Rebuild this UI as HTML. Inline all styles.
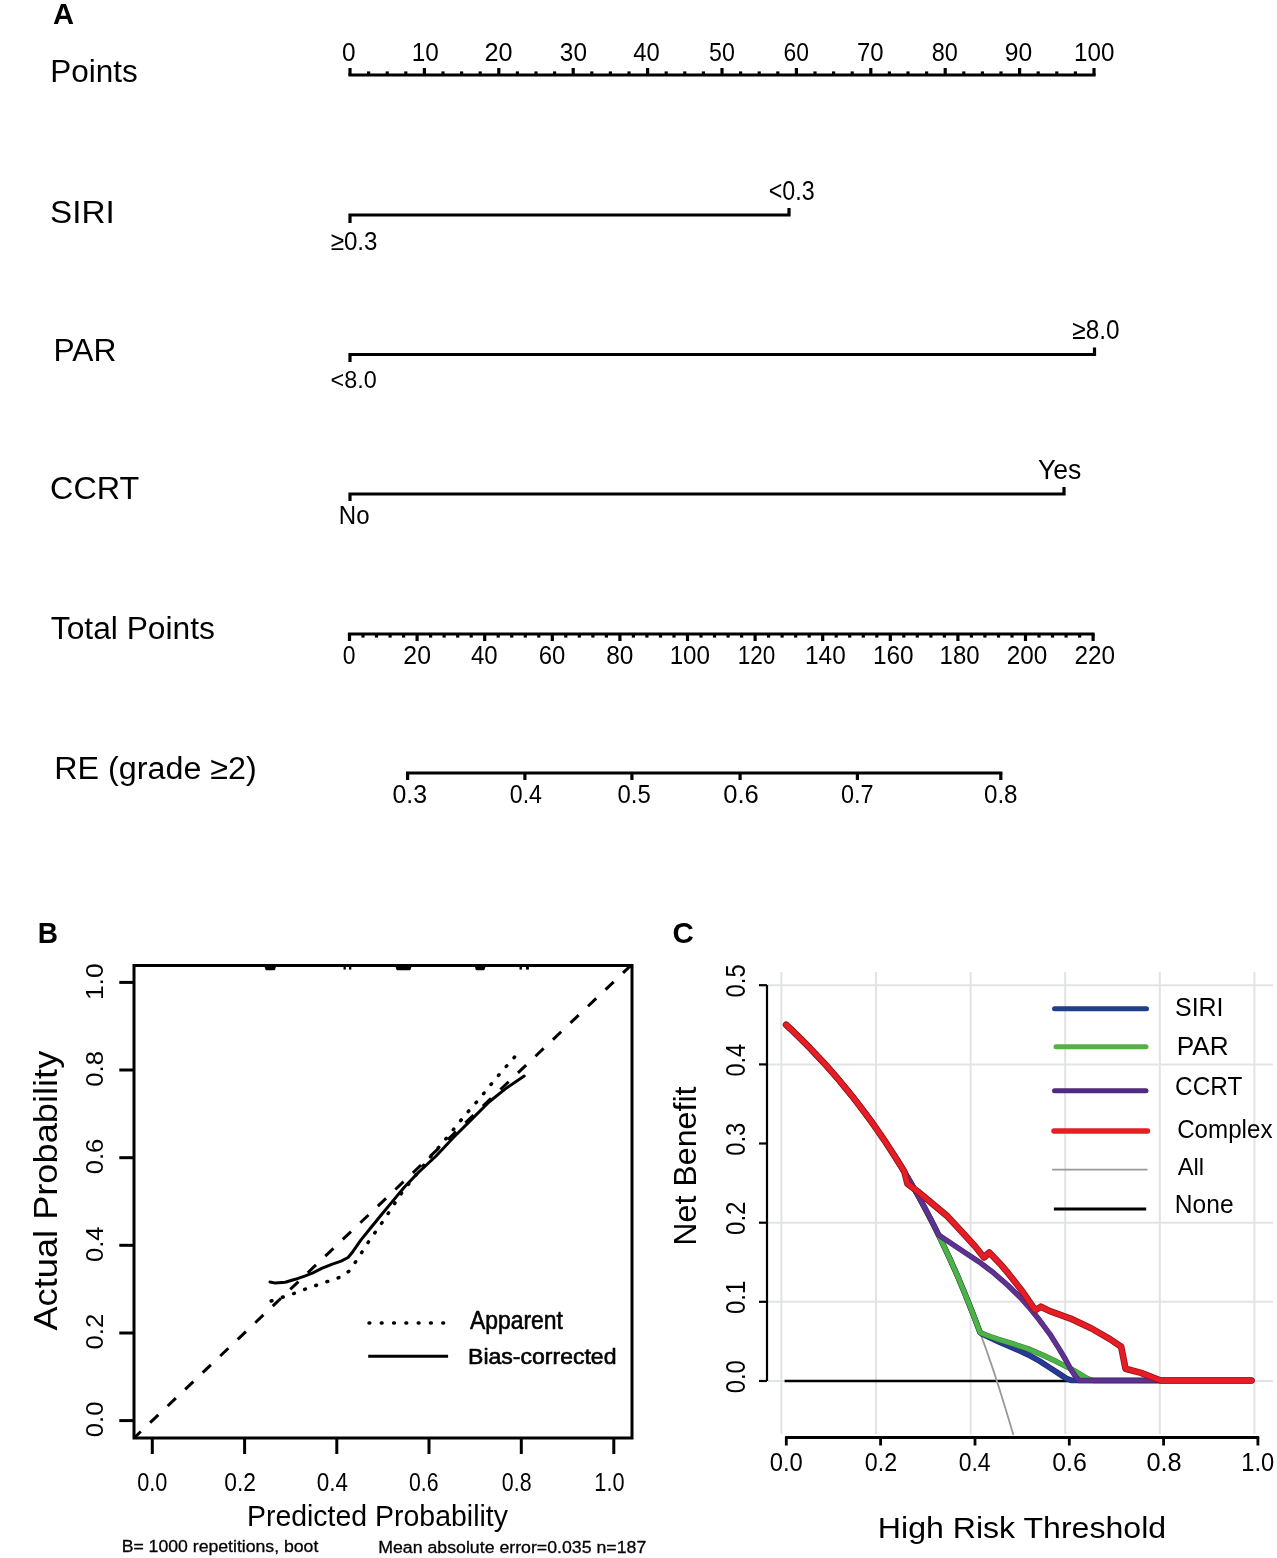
<!DOCTYPE html>
<html><head><meta charset="utf-8"><style>
html,body{margin:0;padding:0;background:#fff;}
svg{display:block;}
text{font-family:"Liberation Sans",sans-serif;}
</style></head><body>
<svg width="1277" height="1558" viewBox="0 0 1277 1558">
<rect width="1277" height="1558" fill="#fff"/>
<g stroke="#000" stroke-width="3.2" fill="none" stroke-linecap="butt">
<line x1="348.4" y1="75" x2="1095.6" y2="75"/>
<line x1="350.0" y1="68" x2="350.0" y2="75"/>
<line x1="368.6" y1="71.4" x2="368.6" y2="75"/>
<line x1="387.2" y1="71.4" x2="387.2" y2="75"/>
<line x1="405.8" y1="71.4" x2="405.8" y2="75"/>
<line x1="424.4" y1="68" x2="424.4" y2="75"/>
<line x1="443.0" y1="71.4" x2="443.0" y2="75"/>
<line x1="461.6" y1="71.4" x2="461.6" y2="75"/>
<line x1="480.2" y1="71.4" x2="480.2" y2="75"/>
<line x1="498.8" y1="68" x2="498.8" y2="75"/>
<line x1="517.4" y1="71.4" x2="517.4" y2="75"/>
<line x1="536.0" y1="71.4" x2="536.0" y2="75"/>
<line x1="554.6" y1="71.4" x2="554.6" y2="75"/>
<line x1="573.2" y1="68" x2="573.2" y2="75"/>
<line x1="591.8" y1="71.4" x2="591.8" y2="75"/>
<line x1="610.4" y1="71.4" x2="610.4" y2="75"/>
<line x1="629.0" y1="71.4" x2="629.0" y2="75"/>
<line x1="647.6" y1="68" x2="647.6" y2="75"/>
<line x1="666.2" y1="71.4" x2="666.2" y2="75"/>
<line x1="684.8" y1="71.4" x2="684.8" y2="75"/>
<line x1="703.4" y1="71.4" x2="703.4" y2="75"/>
<line x1="722.0" y1="68" x2="722.0" y2="75"/>
<line x1="740.6" y1="71.4" x2="740.6" y2="75"/>
<line x1="759.2" y1="71.4" x2="759.2" y2="75"/>
<line x1="777.8" y1="71.4" x2="777.8" y2="75"/>
<line x1="796.4" y1="68" x2="796.4" y2="75"/>
<line x1="815.0" y1="71.4" x2="815.0" y2="75"/>
<line x1="833.6" y1="71.4" x2="833.6" y2="75"/>
<line x1="852.2" y1="71.4" x2="852.2" y2="75"/>
<line x1="870.8" y1="68" x2="870.8" y2="75"/>
<line x1="889.4" y1="71.4" x2="889.4" y2="75"/>
<line x1="908.0" y1="71.4" x2="908.0" y2="75"/>
<line x1="926.6" y1="71.4" x2="926.6" y2="75"/>
<line x1="945.2" y1="68" x2="945.2" y2="75"/>
<line x1="963.8" y1="71.4" x2="963.8" y2="75"/>
<line x1="982.4" y1="71.4" x2="982.4" y2="75"/>
<line x1="1001.0" y1="71.4" x2="1001.0" y2="75"/>
<line x1="1019.6" y1="68" x2="1019.6" y2="75"/>
<line x1="1038.2" y1="71.4" x2="1038.2" y2="75"/>
<line x1="1056.8" y1="71.4" x2="1056.8" y2="75"/>
<line x1="1075.4" y1="71.4" x2="1075.4" y2="75"/>
<line x1="1094.0" y1="68" x2="1094.0" y2="75"/>
<polyline points="350,223 350,215 789,215 789,208"/>
<polyline points="350,362 350,354.5 1094.5,354.5 1094.5,347.4"/>
<polyline points="350,501 350,494 1064,494 1064,487"/>
<line x1="347.9" y1="634" x2="1094.6" y2="634"/>
<line x1="349.5" y1="634" x2="349.5" y2="641"/>
<line x1="363.0" y1="634" x2="363.0" y2="637.6"/>
<line x1="376.5" y1="634" x2="376.5" y2="637.6"/>
<line x1="390.1" y1="634" x2="390.1" y2="637.6"/>
<line x1="403.6" y1="634" x2="403.6" y2="637.6"/>
<line x1="417.1" y1="634" x2="417.1" y2="641"/>
<line x1="430.6" y1="634" x2="430.6" y2="637.6"/>
<line x1="444.1" y1="634" x2="444.1" y2="637.6"/>
<line x1="457.7" y1="634" x2="457.7" y2="637.6"/>
<line x1="471.2" y1="634" x2="471.2" y2="637.6"/>
<line x1="484.7" y1="634" x2="484.7" y2="641"/>
<line x1="498.2" y1="634" x2="498.2" y2="637.6"/>
<line x1="511.7" y1="634" x2="511.7" y2="637.6"/>
<line x1="525.3" y1="634" x2="525.3" y2="637.6"/>
<line x1="538.8" y1="634" x2="538.8" y2="637.6"/>
<line x1="552.3" y1="634" x2="552.3" y2="641"/>
<line x1="565.8" y1="634" x2="565.8" y2="637.6"/>
<line x1="579.3" y1="634" x2="579.3" y2="637.6"/>
<line x1="592.9" y1="634" x2="592.9" y2="637.6"/>
<line x1="606.4" y1="634" x2="606.4" y2="637.6"/>
<line x1="619.9" y1="634" x2="619.9" y2="641"/>
<line x1="633.4" y1="634" x2="633.4" y2="637.6"/>
<line x1="646.9" y1="634" x2="646.9" y2="637.6"/>
<line x1="660.5" y1="634" x2="660.5" y2="637.6"/>
<line x1="674.0" y1="634" x2="674.0" y2="637.6"/>
<line x1="687.5" y1="634" x2="687.5" y2="641"/>
<line x1="701.0" y1="634" x2="701.0" y2="637.6"/>
<line x1="714.5" y1="634" x2="714.5" y2="637.6"/>
<line x1="728.1" y1="634" x2="728.1" y2="637.6"/>
<line x1="741.6" y1="634" x2="741.6" y2="637.6"/>
<line x1="755.1" y1="634" x2="755.1" y2="641"/>
<line x1="768.6" y1="634" x2="768.6" y2="637.6"/>
<line x1="782.1" y1="634" x2="782.1" y2="637.6"/>
<line x1="795.7" y1="634" x2="795.7" y2="637.6"/>
<line x1="809.2" y1="634" x2="809.2" y2="637.6"/>
<line x1="822.7" y1="634" x2="822.7" y2="641"/>
<line x1="836.2" y1="634" x2="836.2" y2="637.6"/>
<line x1="849.7" y1="634" x2="849.7" y2="637.6"/>
<line x1="863.3" y1="634" x2="863.3" y2="637.6"/>
<line x1="876.8" y1="634" x2="876.8" y2="637.6"/>
<line x1="890.3" y1="634" x2="890.3" y2="641"/>
<line x1="903.8" y1="634" x2="903.8" y2="637.6"/>
<line x1="917.3" y1="634" x2="917.3" y2="637.6"/>
<line x1="930.9" y1="634" x2="930.9" y2="637.6"/>
<line x1="944.4" y1="634" x2="944.4" y2="637.6"/>
<line x1="957.9" y1="634" x2="957.9" y2="641"/>
<line x1="971.4" y1="634" x2="971.4" y2="637.6"/>
<line x1="984.9" y1="634" x2="984.9" y2="637.6"/>
<line x1="998.5" y1="634" x2="998.5" y2="637.6"/>
<line x1="1012.0" y1="634" x2="1012.0" y2="637.6"/>
<line x1="1025.5" y1="634" x2="1025.5" y2="641"/>
<line x1="1039.0" y1="634" x2="1039.0" y2="637.6"/>
<line x1="1052.5" y1="634" x2="1052.5" y2="637.6"/>
<line x1="1066.1" y1="634" x2="1066.1" y2="637.6"/>
<line x1="1079.6" y1="634" x2="1079.6" y2="637.6"/>
<line x1="1093.1" y1="634" x2="1093.1" y2="641"/>
<line x1="406.0" y1="773" x2="1002.4" y2="773"/>
<line x1="407.6" y1="773" x2="407.6" y2="780"/>
<line x1="524.9" y1="773" x2="524.9" y2="780"/>
<line x1="631.9" y1="773" x2="631.9" y2="780"/>
<line x1="740.1" y1="773" x2="740.1" y2="780"/>
<line x1="857.4" y1="773" x2="857.4" y2="780"/>
<line x1="1000.8" y1="773" x2="1000.8" y2="780"/>
</g>
<g stroke="#000" fill="none">
<rect x="134" y="965.5" width="498" height="472.5" stroke-width="3"/>
<line x1="152.3" y1="1438" x2="152.3" y2="1454" stroke-width="3"/>
<line x1="244.6" y1="1438" x2="244.6" y2="1454" stroke-width="3"/>
<line x1="336.8" y1="1438" x2="336.8" y2="1454" stroke-width="3"/>
<line x1="429.0" y1="1438" x2="429.0" y2="1454" stroke-width="3"/>
<line x1="521.3" y1="1438" x2="521.3" y2="1454" stroke-width="3"/>
<line x1="613.8" y1="1438" x2="613.8" y2="1454" stroke-width="3"/>
<line x1="119.3" y1="1420.6" x2="134" y2="1420.6" stroke-width="3"/>
<line x1="119.3" y1="1333.0" x2="134" y2="1333.0" stroke-width="3"/>
<line x1="119.3" y1="1245.3" x2="134" y2="1245.3" stroke-width="3"/>
<line x1="119.3" y1="1157.7" x2="134" y2="1157.7" stroke-width="3"/>
<line x1="119.3" y1="1070.0" x2="134" y2="1070.0" stroke-width="3"/>
<line x1="119.3" y1="982.4" x2="134" y2="982.4" stroke-width="3"/>
<line x1="134" y1="1438" x2="632" y2="964.4" stroke-width="3" stroke-dasharray="11.3 12.87" stroke-dashoffset="1.9"/>
<polyline points="270.0,1282.0 275.3,1283.1 285.3,1282.2 295.2,1279.3 304.6,1276.1 312.9,1272.8 322.3,1268.1 331.7,1264.3 341.1,1261.1 348.1,1257.5 352.8,1251.7 361.0,1239.9 370.4,1228.2 381.0,1215.2 392.7,1201.1 404.5,1187.0 418.5,1172.4 436.1,1156.0 453.7,1137.2 471.4,1119.6 489.0,1102.0 506.6,1087.9 524.2,1076.1" stroke-width="3" stroke-linejoin="round" stroke-linecap="round"/>
<polyline points="271.2,1301.0 294.1,1293.4 305.2,1289.2 317.0,1285.1 328.1,1281.3 339.9,1277.3 349.3,1271.0 356.3,1260.8 362.8,1250.8 369.2,1240.8 376.3,1230.7 383.3,1220.9 389.8,1211.1 396.3,1200.9 403.3,1190.6 420.0,1170.0 432.0,1155.0 442.0,1143.7 456.7,1125.5 464.3,1116.1 472.0,1107.2 480.2,1097.8 487.8,1088.4 495.4,1079.0 503.1,1070.0 511.3,1060.8 519.5,1051.4" stroke-width="3.5" stroke-linecap="round" stroke-dasharray="0.8 11"/>
<line x1="369" y1="1323" x2="446" y2="1323" stroke-width="3.5" stroke-linecap="round" stroke-dasharray="0.8 11.5"/>
<line x1="368.2" y1="1356.3" x2="448.1" y2="1356.3" stroke-width="3"/>
</g>
<path d="M264,965 L276.5,965 L275.0,969.8 Q274.5,970.3 273.5,970.3 L267,970.3 Q266,970.3 265.5,969.8 Z" fill="#000"/>
<path d="M395,965 L412,965 L410.5,969.8 Q410,970.3 409,970.3 L398,970.3 Q397,970.3 396.5,969.8 Z" fill="#000"/>
<path d="M474.3,965 L486,965 L484.5,969.8 Q484,970.3 483,970.3 L477.3,970.3 Q476.3,970.3 475.8,969.8 Z" fill="#000"/>
<rect x="343.5" y="965" width="2.3000000000000114" height="4.6" fill="#000"/>
<rect x="349" y="965" width="2.3000000000000114" height="4.6" fill="#000"/>
<rect x="519.5" y="965" width="2.3999999999999773" height="4.6" fill="#000"/>
<rect x="526" y="965" width="2.8999999999999773" height="4.6" fill="#000"/>
<g stroke="#e2e3e5" stroke-width="2">
<line x1="781.4" y1="972" x2="781.4" y2="1434"/>
<line x1="876.0" y1="972" x2="876.0" y2="1434"/>
<line x1="970.6" y1="972" x2="970.6" y2="1434"/>
<line x1="1065.2" y1="972" x2="1065.2" y2="1434"/>
<line x1="1159.8" y1="972" x2="1159.8" y2="1434"/>
<line x1="1254.4" y1="972" x2="1254.4" y2="1434"/>
<line x1="768" y1="1381.0" x2="1273" y2="1381.0"/>
<line x1="768" y1="1301.8" x2="1273" y2="1301.8"/>
<line x1="768" y1="1222.7" x2="1273" y2="1222.7"/>
<line x1="768" y1="1064.4" x2="1273" y2="1064.4"/>
<line x1="768" y1="985.2" x2="1273" y2="985.2"/>
</g>
<g stroke="#000" fill="none">
<line x1="767" y1="985" x2="767" y2="1381" stroke-width="2.2"/>
<line x1="759" y1="1381.0" x2="767" y2="1381.0" stroke-width="2.2"/>
<line x1="759" y1="1301.8" x2="767" y2="1301.8" stroke-width="2.2"/>
<line x1="759" y1="1222.7" x2="767" y2="1222.7" stroke-width="2.2"/>
<line x1="759" y1="1143.5" x2="767" y2="1143.5" stroke-width="2.2"/>
<line x1="759" y1="1064.4" x2="767" y2="1064.4" stroke-width="2.2"/>
<line x1="759" y1="985.2" x2="767" y2="985.2" stroke-width="2.2"/>
<line x1="785.0999999999999" y1="1437.5" x2="1259.1499999999999" y2="1437.5" stroke-width="2.8"/>
<line x1="786.3" y1="1437" x2="786.3" y2="1445.5" stroke-width="2.8"/>
<line x1="880.6" y1="1437" x2="880.6" y2="1445.5" stroke-width="2.8"/>
<line x1="975.0" y1="1437" x2="975.0" y2="1445.5" stroke-width="2.8"/>
<line x1="1069.3" y1="1437" x2="1069.3" y2="1445.5" stroke-width="2.8"/>
<line x1="1163.6" y1="1437" x2="1163.6" y2="1445.5" stroke-width="2.8"/>
<line x1="1257.9" y1="1437" x2="1257.9" y2="1445.5" stroke-width="2.8"/>
</g>
<line x1="784.6" y1="1381" x2="1250" y2="1381" stroke="#000" stroke-width="2.6"/>
<polyline points="786.1,1024.8 788.5,1027.0 790.9,1029.2 793.2,1031.5 795.6,1033.8 798.0,1036.1 800.3,1038.4 802.7,1040.7 805.0,1043.1 807.4,1045.5 809.8,1047.9 812.1,1050.4 814.5,1052.9 816.9,1055.4 819.2,1057.9 821.6,1060.5 824.0,1063.1 826.3,1065.7 828.7,1068.3 831.1,1071.0 833.4,1073.7 835.8,1076.4 838.2,1079.2 840.5,1082.0 842.9,1084.8 845.3,1087.7 847.6,1090.6 850.0,1093.5 852.4,1096.5 854.7,1099.5 857.1,1102.5 859.4,1105.6 861.8,1108.7 864.2,1111.9 866.5,1115.0 868.9,1118.3 871.3,1121.5 873.6,1124.8 876.0,1128.2 878.4,1131.6 880.7,1135.0 883.1,1138.5 885.5,1142.0 887.8,1145.6 890.2,1149.2 892.6,1152.8 894.9,1156.5 897.3,1160.3 899.7,1164.1 902.0,1168.0 904.4,1171.9 906.7,1175.8 909.1,1179.8 911.5,1183.9 913.8,1188.0 916.2,1192.2 918.6,1196.5 920.9,1200.8 923.3,1205.2 925.7,1209.6 928.0,1214.1 930.4,1218.6 932.8,1223.3 935.1,1228.0 937.5,1232.7 939.9,1237.6 942.2,1242.5 944.6,1247.5 947.0,1252.5 949.3,1257.7 951.7,1262.9 954.0,1268.2 956.4,1273.6 958.8,1279.0 961.1,1284.6 963.5,1290.3 965.9,1296.0 968.2,1301.8 970.6,1307.8 973.0,1313.8 975.3,1320.0 977.7,1326.2 980.1,1332.5 982.4,1339.0 984.8,1345.6 987.2,1352.3 989.5,1359.1 991.9,1366.0 994.3,1373.1 996.6,1380.3 999.0,1387.6 1001.3,1395.1 1003.7,1402.7 1006.1,1410.4 1008.4,1418.3 1010.8,1426.3 1013.2,1434.5 1013.3,1435.0" stroke="#999" stroke-width="1.8" fill="none"/>
<polyline points="786.1,1024.8 790.9,1029.2 795.6,1033.8 800.3,1038.4 805.0,1043.1 809.8,1047.9 814.5,1052.9 819.2,1057.9 824.0,1063.1 828.7,1068.3 833.4,1073.7 838.2,1079.2 842.9,1084.8 847.6,1090.6 852.4,1096.5 857.1,1102.5 861.8,1108.7 866.5,1115.0 871.3,1121.5 876.0,1128.2 880.7,1135.0 885.5,1142.0 890.2,1149.2 894.9,1156.5 899.6,1164.1 904.4,1171.9 904.4,1171.9 911.9,1184.7 919.5,1198.2 927.1,1212.3 934.7,1227.0 942.2,1242.5 949.8,1258.7 957.4,1275.7 964.9,1293.7 972.5,1312.6 980.1,1332.5 981.5,1333.6 990.0,1337.6 1000.0,1342.4 1014.0,1348.3 1028.2,1354.8 1039.5,1361.0 1049.3,1367.3 1058.0,1373.0 1066.3,1378.5 1072.0,1380.5 1251.5,1380.5" stroke="#1c2a66" stroke-width="5.7" fill="none" stroke-linejoin="round" stroke-linecap="round"/>
<polyline points="786.1,1024.8 790.9,1029.2 795.6,1033.8 800.3,1038.4 805.0,1043.1 809.8,1047.9 814.5,1052.9 819.2,1057.9 824.0,1063.1 828.7,1068.3 833.4,1073.7 838.2,1079.2 842.9,1084.8 847.6,1090.6 852.4,1096.5 857.1,1102.5 861.8,1108.7 866.5,1115.0 871.3,1121.5 876.0,1128.2 880.7,1135.0 885.5,1142.0 890.2,1149.2 894.9,1156.5 899.6,1164.1 904.4,1171.9 904.4,1171.9 911.9,1184.7 919.5,1198.2 927.1,1212.3 934.7,1227.0 942.2,1242.5 949.8,1258.7 957.4,1275.7 964.9,1293.7 972.5,1312.6 980.1,1332.5 981.5,1333.6 990.0,1337.6 1000.0,1342.4 1014.0,1348.3 1028.2,1354.8 1039.5,1361.0 1049.3,1367.3 1058.0,1373.0 1066.3,1378.5 1072.0,1380.5 1251.5,1380.5" stroke="#263a96" stroke-width="4.4" fill="none" stroke-linejoin="round" stroke-linecap="round"/>
<polyline points="786.1,1024.8 790.9,1029.2 795.6,1033.8 800.3,1038.4 805.0,1043.1 809.8,1047.9 814.5,1052.9 819.2,1057.9 824.0,1063.1 828.7,1068.3 833.4,1073.7 838.2,1079.2 842.9,1084.8 847.6,1090.6 852.4,1096.5 857.1,1102.5 861.8,1108.7 866.5,1115.0 871.3,1121.5 876.0,1128.2 880.7,1135.0 885.5,1142.0 890.2,1149.2 894.9,1156.5 899.6,1164.1 904.4,1171.9 904.4,1171.9 911.9,1184.7 919.5,1198.2 927.1,1212.3 934.7,1227.0 942.2,1242.5 949.8,1258.7 957.4,1275.7 964.9,1293.7 972.5,1312.6 980.1,1332.5 981.5,1333.2 990.0,1336.5 1000.0,1339.8 1014.0,1344.2 1028.2,1348.9 1042.0,1354.8 1056.4,1361.6 1073.3,1370.1 1087.4,1378.5 1093.0,1380.5 1251.5,1380.5" stroke="#3f7a30" stroke-width="5.5" fill="none" stroke-linejoin="round" stroke-linecap="round"/>
<polyline points="786.1,1024.8 790.9,1029.2 795.6,1033.8 800.3,1038.4 805.0,1043.1 809.8,1047.9 814.5,1052.9 819.2,1057.9 824.0,1063.1 828.7,1068.3 833.4,1073.7 838.2,1079.2 842.9,1084.8 847.6,1090.6 852.4,1096.5 857.1,1102.5 861.8,1108.7 866.5,1115.0 871.3,1121.5 876.0,1128.2 880.7,1135.0 885.5,1142.0 890.2,1149.2 894.9,1156.5 899.6,1164.1 904.4,1171.9 904.4,1171.9 911.9,1184.7 919.5,1198.2 927.1,1212.3 934.7,1227.0 942.2,1242.5 949.8,1258.7 957.4,1275.7 964.9,1293.7 972.5,1312.6 980.1,1332.5 981.5,1333.2 990.0,1336.5 1000.0,1339.8 1014.0,1344.2 1028.2,1348.9 1042.0,1354.8 1056.4,1361.6 1073.3,1370.1 1087.4,1378.5 1093.0,1380.5 1251.5,1380.5" stroke="#4bb446" stroke-width="4.4" fill="none" stroke-linejoin="round" stroke-linecap="round"/>
<polyline points="786.1,1024.8 790.9,1029.2 795.6,1033.8 800.3,1038.4 805.0,1043.1 809.8,1047.9 814.5,1052.9 819.2,1057.9 824.0,1063.1 828.7,1068.3 833.4,1073.7 838.2,1079.2 842.9,1084.8 847.6,1090.6 852.4,1096.5 857.1,1102.5 861.8,1108.7 866.5,1115.0 871.3,1121.5 876.0,1128.2 880.7,1135.0 885.5,1142.0 890.2,1149.2 894.9,1156.5 899.6,1164.1 904.4,1171.9 904.4,1171.9 910.1,1181.5 915.8,1191.5 921.5,1201.9 927.2,1212.6 933.0,1223.7 938.7,1235.1 957.7,1247.7 979.2,1261.9 994.0,1273.2 1007.8,1285.3 1021.1,1298.2 1031.0,1309.5 1040.0,1320.8 1050.0,1334.3 1059.2,1348.9 1065.5,1359.5 1070.5,1368.7 1075.0,1375.8 1078.9,1380.5 1251.5,1380.5" stroke="#43286a" stroke-width="5.4" fill="none" stroke-linejoin="round" stroke-linecap="round"/>
<polyline points="786.1,1024.8 790.9,1029.2 795.6,1033.8 800.3,1038.4 805.0,1043.1 809.8,1047.9 814.5,1052.9 819.2,1057.9 824.0,1063.1 828.7,1068.3 833.4,1073.7 838.2,1079.2 842.9,1084.8 847.6,1090.6 852.4,1096.5 857.1,1102.5 861.8,1108.7 866.5,1115.0 871.3,1121.5 876.0,1128.2 880.7,1135.0 885.5,1142.0 890.2,1149.2 894.9,1156.5 899.6,1164.1 904.4,1171.9 904.4,1171.9 910.1,1181.5 915.8,1191.5 921.5,1201.9 927.2,1212.6 933.0,1223.7 938.7,1235.1 957.7,1247.7 979.2,1261.9 994.0,1273.2 1007.8,1285.3 1021.1,1298.2 1031.0,1309.5 1040.0,1320.8 1050.0,1334.3 1059.2,1348.9 1065.5,1359.5 1070.5,1368.7 1075.0,1375.8 1078.9,1380.5 1251.5,1380.5" stroke="#5e3193" stroke-width="4.2" fill="none" stroke-linejoin="round" stroke-linecap="round"/>
<polyline points="786.1,1024.8 790.9,1029.2 795.6,1033.8 800.3,1038.4 805.0,1043.1 809.8,1047.9 814.5,1052.9 819.2,1057.9 824.0,1063.1 828.7,1068.3 833.4,1073.7 838.2,1079.2 842.9,1084.8 847.6,1090.6 852.4,1096.5 857.1,1102.5 861.8,1108.7 866.5,1115.0 871.3,1121.5 876.0,1128.2 880.7,1135.0 885.5,1142.0 890.2,1149.2 894.9,1156.5 899.6,1164.1 904.4,1171.8 907.5,1183.8 917.6,1191.3 932.6,1203.9 947.6,1216.4 962.7,1232.7 975.2,1246.5 984.0,1257.5 989.3,1252.5 1001.5,1265.3 1006.6,1271.3 1021.1,1289.7 1035.2,1310.2 1040.9,1306.7 1049.3,1310.9 1070.5,1318.6 1091.6,1328.5 1110.0,1339.1 1121.2,1346.8 1125.5,1368.7 1141.0,1372.9 1160.7,1380.5 1251.5,1380.5" stroke="#8a1419" stroke-width="6.6" fill="none" stroke-linejoin="round" stroke-linecap="round"/>
<polyline points="786.1,1024.8 790.9,1029.2 795.6,1033.8 800.3,1038.4 805.0,1043.1 809.8,1047.9 814.5,1052.9 819.2,1057.9 824.0,1063.1 828.7,1068.3 833.4,1073.7 838.2,1079.2 842.9,1084.8 847.6,1090.6 852.4,1096.5 857.1,1102.5 861.8,1108.7 866.5,1115.0 871.3,1121.5 876.0,1128.2 880.7,1135.0 885.5,1142.0 890.2,1149.2 894.9,1156.5 899.6,1164.1 904.4,1171.8 907.5,1183.8 917.6,1191.3 932.6,1203.9 947.6,1216.4 962.7,1232.7 975.2,1246.5 984.0,1257.5 989.3,1252.5 1001.5,1265.3 1006.6,1271.3 1021.1,1289.7 1035.2,1310.2 1040.9,1306.7 1049.3,1310.9 1070.5,1318.6 1091.6,1328.5 1110.0,1339.1 1121.2,1346.8 1125.5,1368.7 1141.0,1372.9 1160.7,1380.5 1251.5,1380.5" stroke="#e81c24" stroke-width="5.0" fill="none" stroke-linejoin="round" stroke-linecap="round"/>
<line x1="1054.5" y1="1008.8" x2="1146.5" y2="1008.8" stroke="#1f3f8a" stroke-width="5" stroke-linecap="round"/>
<line x1="1056" y1="1046.8" x2="1146" y2="1046.8" stroke="#55b046" stroke-width="5" stroke-linecap="round"/>
<line x1="1054.5" y1="1090.8" x2="1146" y2="1090.8" stroke="#4f2b80" stroke-width="5" stroke-linecap="round"/>
<line x1="1054" y1="1130.9" x2="1147.5" y2="1130.9" stroke="#e61e25" stroke-width="5.5" stroke-linecap="round"/>
<line x1="1052.1" y1="1169.7" x2="1147.6" y2="1169.7" stroke="#999" stroke-width="1.8"/>
<line x1="1053.9" y1="1209" x2="1146.2" y2="1209" stroke="#000" stroke-width="2.8"/>
<g opacity="0.999">
<text transform="translate(53.03,24.09) scale(0.9941,1)" font-size="29.26" font-weight="bold" fill="#000">A</text>
<text transform="translate(50.18,81.99) scale(1.0270,1)" font-size="30.68" font-weight="normal" fill="#000">Points</text>
<text transform="translate(50.04,223.19) scale(1.0838,1)" font-size="30.70" font-weight="normal" fill="#000">SIRI</text>
<text transform="translate(53.56,361.30) scale(1.0376,1)" font-size="30.58" font-weight="normal" fill="#000">PAR</text>
<text transform="translate(50.08,498.79) scale(1.0378,1)" font-size="31.13" font-weight="normal" fill="#000">CCRT</text>
<text transform="translate(50.76,639.29) scale(1.0315,1)" font-size="30.81" font-weight="normal" fill="#000">Total Points</text>
<text transform="translate(54.32,779.20) scale(1.0080,1)" font-size="32.03" font-weight="normal" fill="#000">RE (grade ≥2)</text>
<text transform="translate(342.12,60.54) scale(0.9355,1)" font-size="26.06" font-weight="normal" fill="#000">0</text>
<text transform="translate(411.65,60.54) scale(0.9343,1)" font-size="26.06" font-weight="normal" fill="#000">10</text>
<text transform="translate(484.44,60.54) scale(0.9670,1)" font-size="26.06" font-weight="normal" fill="#000">20</text>
<text transform="translate(559.83,60.54) scale(0.9352,1)" font-size="26.06" font-weight="normal" fill="#000">30</text>
<text transform="translate(633.22,60.54) scale(0.9138,1)" font-size="26.06" font-weight="normal" fill="#000">40</text>
<text transform="translate(709.07,60.54) scale(0.8905,1)" font-size="26.06" font-weight="normal" fill="#000">50</text>
<text transform="translate(783.56,60.54) scale(0.8767,1)" font-size="26.06" font-weight="normal" fill="#000">60</text>
<text transform="translate(856.90,60.54) scale(0.9181,1)" font-size="26.06" font-weight="normal" fill="#000">70</text>
<text transform="translate(931.66,60.54) scale(0.9017,1)" font-size="26.06" font-weight="normal" fill="#000">80</text>
<text transform="translate(1004.86,60.54) scale(0.9482,1)" font-size="26.06" font-weight="normal" fill="#000">90</text>
<text transform="translate(1074.06,60.54) scale(0.9285,1)" font-size="26.06" font-weight="normal" fill="#000">100</text>
<text transform="translate(768.74,200.03) scale(0.8551,1)" font-size="27.18" font-weight="normal" fill="#000">&lt;0.3</text>
<text transform="translate(330.68,249.74) scale(0.9215,1)" font-size="26.20" font-weight="normal" fill="#000">≥0.3</text>
<text transform="translate(1072.37,338.83) scale(0.8971,1)" font-size="27.18" font-weight="normal" fill="#000">≥8.0</text>
<text transform="translate(330.53,387.67) scale(1.0071,1)" font-size="23.24" font-weight="normal" fill="#000">&lt;8.0</text>
<text transform="translate(1037.90,479.42) scale(0.9656,1)" font-size="27.57" font-weight="normal" fill="#000">Yes</text>
<text transform="translate(338.78,523.95) scale(0.9676,1)" font-size="24.86" font-weight="normal" fill="#000">No</text>
<text transform="translate(342.68,664.44) scale(0.8891,1)" font-size="25.77" font-weight="normal" fill="#000">0</text>
<text transform="translate(403.36,664.44) scale(0.9623,1)" font-size="25.77" font-weight="normal" fill="#000">20</text>
<text transform="translate(471.02,664.44) scale(0.9311,1)" font-size="25.77" font-weight="normal" fill="#000">40</text>
<text transform="translate(538.80,664.44) scale(0.9281,1)" font-size="25.77" font-weight="normal" fill="#000">60</text>
<text transform="translate(606.22,664.44) scale(0.9492,1)" font-size="25.77" font-weight="normal" fill="#000">80</text>
<text transform="translate(669.66,664.44) scale(0.9387,1)" font-size="25.77" font-weight="normal" fill="#000">100</text>
<text transform="translate(737.70,664.44) scale(0.8736,1)" font-size="25.77" font-weight="normal" fill="#000">120</text>
<text transform="translate(805.05,664.44) scale(0.9462,1)" font-size="25.77" font-weight="normal" fill="#000">140</text>
<text transform="translate(872.95,664.44) scale(0.9462,1)" font-size="25.77" font-weight="normal" fill="#000">160</text>
<text transform="translate(939.58,664.44) scale(0.9311,1)" font-size="25.77" font-weight="normal" fill="#000">180</text>
<text transform="translate(1006.78,664.44) scale(0.9429,1)" font-size="25.77" font-weight="normal" fill="#000">200</text>
<text transform="translate(1074.38,664.44) scale(0.9454,1)" font-size="25.77" font-weight="normal" fill="#000">220</text>
<text transform="translate(392.40,803.25) scale(0.9762,1)" font-size="25.49" font-weight="normal" fill="#000">0.3</text>
<text transform="translate(509.77,803.25) scale(0.9093,1)" font-size="25.49" font-weight="normal" fill="#000">0.4</text>
<text transform="translate(617.54,803.25) scale(0.9372,1)" font-size="25.49" font-weight="normal" fill="#000">0.5</text>
<text transform="translate(723.18,803.25) scale(1.0031,1)" font-size="25.49" font-weight="normal" fill="#000">0.6</text>
<text transform="translate(841.06,803.25) scale(0.9203,1)" font-size="25.49" font-weight="normal" fill="#000">0.7</text>
<text transform="translate(983.93,803.25) scale(0.9492,1)" font-size="25.49" font-weight="normal" fill="#000">0.8</text>
<text transform="translate(37.84,942.80) scale(0.9720,1)" font-size="28.84" font-weight="bold" fill="#000">B</text>
<text transform="translate(137.23,1490.84) scale(0.8320,1)" font-size="26.06" font-weight="normal" fill="#000">0.0</text>
<text transform="translate(224.29,1490.84) scale(0.8768,1)" font-size="26.06" font-weight="normal" fill="#000">0.2</text>
<text transform="translate(316.80,1490.84) scale(0.8635,1)" font-size="26.06" font-weight="normal" fill="#000">0.4</text>
<text transform="translate(409.05,1490.84) scale(0.8144,1)" font-size="26.06" font-weight="normal" fill="#000">0.6</text>
<text transform="translate(501.85,1490.84) scale(0.8203,1)" font-size="26.06" font-weight="normal" fill="#000">0.8</text>
<text transform="translate(594.36,1490.84) scale(0.8340,1)" font-size="26.06" font-weight="normal" fill="#000">1.0</text>
<text transform="translate(102.85,1437.23) rotate(-90) scale(1.0347,1)" font-size="24.79" font-weight="normal" fill="#000">0.0</text>
<text transform="translate(102.85,1349.59) rotate(-90) scale(1.0427,1)" font-size="24.79" font-weight="normal" fill="#000">0.2</text>
<text transform="translate(102.85,1261.94) rotate(-90) scale(1.0269,1)" font-size="24.79" font-weight="normal" fill="#000">0.4</text>
<text transform="translate(102.85,1174.31) rotate(-90) scale(1.0347,1)" font-size="24.79" font-weight="normal" fill="#000">0.6</text>
<text transform="translate(102.85,1086.67) rotate(-90) scale(1.0347,1)" font-size="24.79" font-weight="normal" fill="#000">0.8</text>
<text transform="translate(102.85,1000.12) rotate(-90) scale(1.0673,1)" font-size="24.79" font-weight="normal" fill="#000">1.0</text>
<text transform="translate(56.85,1330.60) rotate(-90) scale(1.0951,1)" font-size="33.09" font-weight="normal" fill="#000">Actual Probability</text>
<text transform="translate(246.92,1525.51) scale(0.9358,1)" font-size="30.43" font-weight="normal" fill="#000">Predicted Probability</text>
<text transform="translate(121.64,1552.21) scale(1.0784,1)" font-size="16.38" font-weight="normal" fill="#000" stroke="#000" stroke-width="0.30" stroke-linejoin="round">B= 1000 repetitions, boot</text>
<text transform="translate(378.23,1552.69) scale(1.0844,1)" font-size="16.35" font-weight="normal" fill="#000" stroke="#000" stroke-width="0.30" stroke-linejoin="round">Mean absolute error=0.035 n=187</text>
<text transform="translate(469.90,1329.31) scale(0.8937,1)" font-size="25.67" font-weight="normal" fill="#000" stroke="#000" stroke-width="0.60" stroke-linejoin="round">Apparent</text>
<text transform="translate(468.06,1364.09) scale(1.0856,1)" font-size="21.22" font-weight="normal" fill="#000" stroke="#000" stroke-width="0.60" stroke-linejoin="round">Bias-corrected</text>
<text transform="translate(672.42,943.10) scale(0.9939,1)" font-size="29.72" font-weight="bold" fill="#000">C</text>
<text transform="translate(769.75,1471.25) scale(0.9500,1)" font-size="25.07" font-weight="normal" fill="#000">0.0</text>
<text transform="translate(864.77,1471.25) scale(0.9266,1)" font-size="25.07" font-weight="normal" fill="#000">0.2</text>
<text transform="translate(958.68,1471.25) scale(0.9156,1)" font-size="25.07" font-weight="normal" fill="#000">0.4</text>
<text transform="translate(1052.20,1471.25) scale(0.9926,1)" font-size="25.07" font-weight="normal" fill="#000">0.6</text>
<text transform="translate(1146.49,1471.25) scale(1.0109,1)" font-size="25.07" font-weight="normal" fill="#000">0.8</text>
<text transform="translate(1241.30,1471.25) scale(0.9454,1)" font-size="25.07" font-weight="normal" fill="#000">1.0</text>
<text transform="translate(744.83,1393.25) rotate(-90) scale(0.8807,1)" font-size="27.04" font-weight="normal" fill="#000">0.0</text>
<text transform="translate(744.83,1314.10) rotate(-90) scale(0.8875,1)" font-size="27.04" font-weight="normal" fill="#000">0.1</text>
<text transform="translate(744.83,1234.94) rotate(-90) scale(0.8875,1)" font-size="27.04" font-weight="normal" fill="#000">0.2</text>
<text transform="translate(744.83,1155.77) rotate(-90) scale(0.8807,1)" font-size="27.04" font-weight="normal" fill="#000">0.3</text>
<text transform="translate(744.83,1076.61) rotate(-90) scale(0.8741,1)" font-size="27.04" font-weight="normal" fill="#000">0.4</text>
<text transform="translate(744.83,997.45) rotate(-90) scale(0.8807,1)" font-size="27.04" font-weight="normal" fill="#000">0.5</text>
<text transform="translate(696.49,1245.78) rotate(-90) scale(1.0406,1)" font-size="30.95" font-weight="normal" fill="#000">Net Benefit</text>
<text transform="translate(877.83,1538.37) scale(1.0813,1)" font-size="29.68" font-weight="normal" fill="#000">High Risk Threshold</text>
<text transform="translate(1175.05,1016.04) scale(0.9471,1)" font-size="26.34" font-weight="normal" fill="#000">SIRI</text>
<text transform="translate(1176.80,1054.80) scale(0.9939,1)" font-size="26.38" font-weight="normal" fill="#000">PAR</text>
<text transform="translate(1175.08,1095.14) scale(0.9245,1)" font-size="26.34" font-weight="normal" fill="#000">CCRT</text>
<text transform="translate(1177.19,1137.75) scale(0.9303,1)" font-size="25.96" font-weight="normal" fill="#000">Complex</text>
<text transform="translate(1177.70,1174.50) scale(0.9949,1)" font-size="23.84" font-weight="normal" fill="#000">All</text>
<text transform="translate(1174.83,1212.65) scale(0.9721,1)" font-size="25.29" font-weight="normal" fill="#000">None</text>
</g>
</svg>
</body></html>
